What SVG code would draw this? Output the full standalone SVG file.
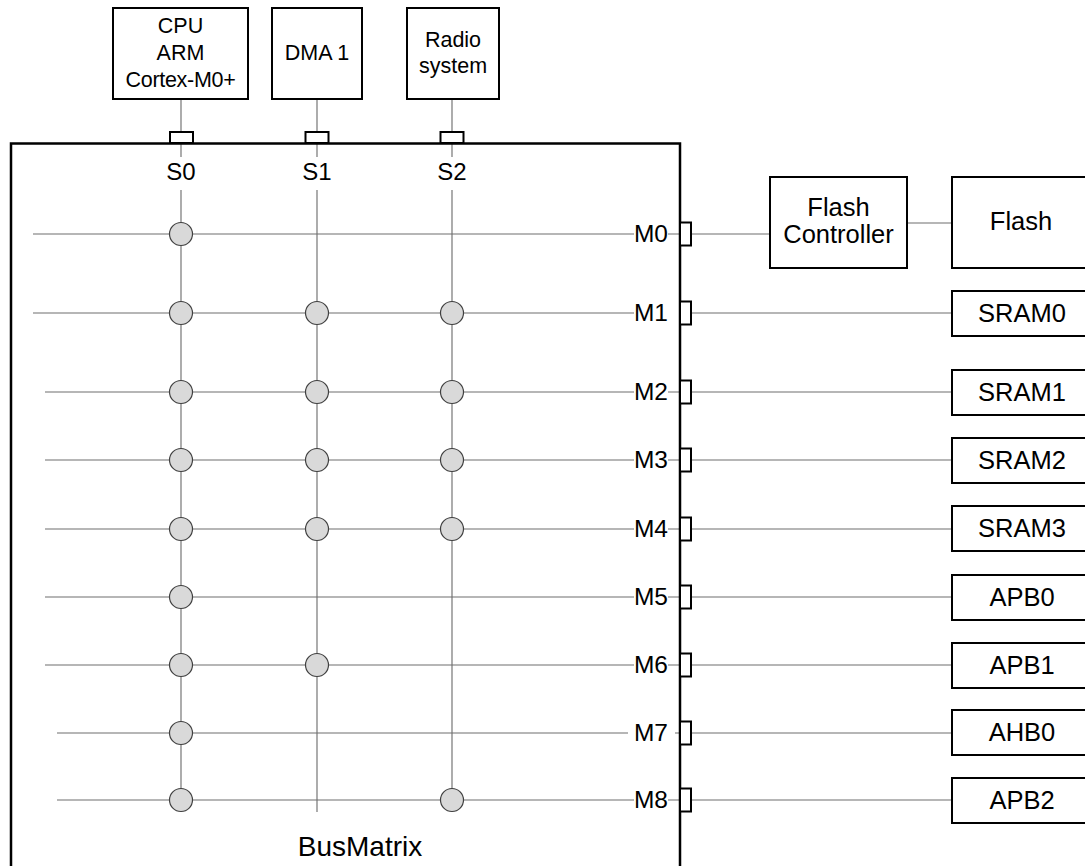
<svg xmlns="http://www.w3.org/2000/svg" width="1085" height="866" viewBox="0 0 1085 866">
<style>
text{font-family:"Liberation Sans",Arial,sans-serif;fill:#000}
.box{fill:#fff;stroke:#000;stroke-width:2}
.port{fill:#fff;stroke:#000;stroke-width:2}
.t21{font-size:21.5px;text-anchor:middle}
.t24{font-size:24px;text-anchor:middle}
.t25{font-size:25.5px;text-anchor:middle}
.m{font-size:24.5px;text-anchor:end}
.h{stroke:#6e6e6e;stroke-width:1.2;fill:none}
.v{stroke:#8a8a8a;stroke-width:1.4;fill:none}
.x{fill:#d9d9d9;stroke:#404040;stroke-width:1.2}
</style>
<rect width="1085" height="866" fill="#fff"/>

<g id="connectors">
  <path class="v" d="M181 99V157M317 99V157M452 99V157"/>
  <path class="v" d="M181 190V812M317 190V812M452 190V812"/>
  <path class="h" d="M33 234H634M668 234H680"/>
  <path class="h" d="M33 313H634"/>
  <path class="h" d="M45 392H634M668 392H680"/>
  <path class="h" d="M45 460H634M668 460H680"/>
  <path class="h" d="M45 529H634M668 529H680"/>
  <path class="h" d="M45 597H634M668 597H680"/>
  <path class="h" d="M45 665H634M668 665H680"/>
  <path class="h" d="M57 733H628M675 733H680"/>
  <path class="h" d="M57 800H634M668 800H680"/>
  <path class="h" d="M691 234H770M907 223H952"/>
  <path class="h" d="M691 313H952M691 392H952M691 460H952M691 529H952M691 597H952M691 665H952M691 733H952M691 800H952"/>
</g>

<g id="busmatrix">
  <path d="M11 870V143.5H680V870" fill="none" stroke="#000" stroke-width="2.5"/>
  <rect class="port" x="170" y="132" width="23" height="11"/>
  <rect class="port" x="305.5" y="132" width="23" height="11"/>
  <rect class="port" x="440.5" y="132" width="23" height="11"/>
  <text class="t24" x="181" y="180">S0</text>
  <text class="t24" x="317" y="180">S1</text>
  <text class="t24" x="452" y="180">S2</text>
  <g>
    <rect class="port" x="680" y="222.5" width="11" height="23"/>
    <rect class="port" x="680" y="301.5" width="11" height="23"/>
    <rect class="port" x="680" y="380.5" width="11" height="23"/>
    <rect class="port" x="680" y="448.5" width="11" height="23"/>
    <rect class="port" x="680" y="517.5" width="11" height="23"/>
    <rect class="port" x="680" y="585.5" width="11" height="23"/>
    <rect class="port" x="680" y="653.5" width="11" height="23"/>
    <rect class="port" x="680" y="721.5" width="11" height="23"/>
    <rect class="port" x="680" y="788.5" width="11" height="23"/>
  </g>
  <text class="m" x="668" y="242">M0</text>
  <text class="m" x="668" y="321">M1</text>
  <text class="m" x="668" y="400">M2</text>
  <text class="m" x="668" y="468">M3</text>
  <text class="m" x="668" y="537">M4</text>
  <text class="m" x="668" y="605">M5</text>
  <text class="m" x="668" y="673">M6</text>
  <text class="m" x="668" y="741">M7</text>
  <text class="m" x="668" y="808">M8</text>
  <g id="crosspoints">
    <circle class="x" cx="181" cy="234" r="11.5"/>
    <circle class="x" cx="181" cy="313" r="11.5"/>
    <circle class="x" cx="317" cy="313" r="11.5"/>
    <circle class="x" cx="452" cy="313" r="11.5"/>
    <circle class="x" cx="181" cy="392" r="11.5"/>
    <circle class="x" cx="317" cy="392" r="11.5"/>
    <circle class="x" cx="452" cy="392" r="11.5"/>
    <circle class="x" cx="181" cy="460" r="11.5"/>
    <circle class="x" cx="317" cy="460" r="11.5"/>
    <circle class="x" cx="452" cy="460" r="11.5"/>
    <circle class="x" cx="181" cy="529" r="11.5"/>
    <circle class="x" cx="317" cy="529" r="11.5"/>
    <circle class="x" cx="452" cy="529" r="11.5"/>
    <circle class="x" cx="181" cy="597" r="11.5"/>
    <circle class="x" cx="181" cy="665" r="11.5"/>
    <circle class="x" cx="317" cy="665" r="11.5"/>
    <circle class="x" cx="181" cy="733" r="11.5"/>
    <circle class="x" cx="181" cy="800" r="11.5"/>
    <circle class="x" cx="452" cy="800" r="11.5"/>
  </g>
  <text x="360" y="856" style="font-size:28px;text-anchor:middle">BusMatrix</text>
</g>

<g id="cpu">
  <rect class="box" x="113" y="8" width="135" height="91"/>
  <text class="t21" x="180.5" y="33">CPU</text>
  <text class="t21" x="180.5" y="60">ARM</text>
  <text class="t21" x="180.5" y="87" letter-spacing="-0.3">Cortex-M0+</text>
</g>
<g id="dma1">
  <rect class="box" x="272" y="8" width="90" height="91"/>
  <text class="t21" x="317" y="60">DMA 1</text>
</g>
<g id="radio">
  <rect class="box" x="407" y="8" width="92" height="91"/>
  <text class="t21" x="453" y="47">Radio</text>
  <text class="t21" x="453" y="73">system</text>
</g>

<g id="flashctrl">
  <rect class="box" x="770" y="177" width="137" height="91"/>
  <text class="t25" x="838.5" y="216">Flash</text>
  <text class="t25" x="838.5" y="243">Controller</text>
</g>
<g id="flash">
  <rect class="box" x="952" y="177" width="140" height="91"/>
  <text class="t25" x="1021" y="230">Flash</text>
</g>
<g id="sram0"><rect class="box" x="952" y="291" width="140" height="45"/><text class="t25" x="1022" y="322">SRAM0</text></g>
<g id="sram1"><rect class="box" x="952" y="370" width="140" height="45"/><text class="t25" x="1022" y="401">SRAM1</text></g>
<g id="sram2"><rect class="box" x="952" y="438" width="140" height="45"/><text class="t25" x="1022" y="469">SRAM2</text></g>
<g id="sram3"><rect class="box" x="952" y="506" width="140" height="45"/><text class="t25" x="1022" y="537">SRAM3</text></g>
<g id="apb0"><rect class="box" x="952" y="575" width="140" height="45"/><text class="t25" x="1022" y="606">APB0</text></g>
<g id="apb1"><rect class="box" x="952" y="643" width="140" height="45"/><text class="t25" x="1022" y="674">APB1</text></g>
<g id="ahb0"><rect class="box" x="952" y="710" width="140" height="45"/><text class="t25" x="1022" y="741">AHB0</text></g>
<g id="apb2"><rect class="box" x="952" y="778" width="140" height="45"/><text class="t25" x="1022" y="809">APB2</text></g>
</svg>
